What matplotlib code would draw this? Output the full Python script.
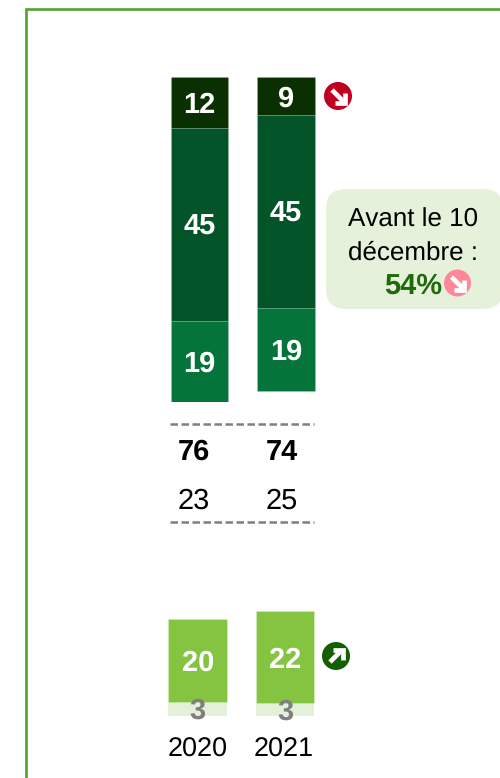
import matplotlib.pyplot as plt
from matplotlib.lines import Line2D
from matplotlib.patches import Circle, FancyBboxPatch

# =========================
# Data
# =========================
YEARS = ["2020", "2021"]

TOP_SEGMENTS = [
    [11.9, 8.9],
    [45.2, 45.2],
    [19.0, 19.4],
]
TOP_COLORS = ["#0a2f00", "#04542a", "#04743a"]

SUBTOTAL_BOLD = [76, 74]
SUBTOTAL_PLAIN = [23, 25]

BOTTOM_PALE = [3.3, 3.0]
BOTTOM_GREEN = [19.8, 22.0]

CALLOUT_LINES = ["Avant le 10", "décembre :"]
CALLOUT_VALUE = "54%"

# =========================
# Setup
# =========================
W, H = 500, 778
plt.rcParams["font.family"] = ["Liberation Sans", "DejaVu Sans"]
plt.rcParams["text.hinting"] = "no_hinting"
plt.rcParams["text.hinting_factor"] = 1

fig = plt.figure(figsize=(W / 100, H / 100), dpi=100)


def px_axes(left, top, right, bottom, zorder=1):
    """Axes placed with pixel coordinates measured from the top left."""
    ax = fig.add_axes(
        [left / W, 1 - bottom / H, (right - left) / W, (bottom - top) / H],
        zorder=zorder,
    )
    ax.axis("off")
    return ax


def badge(ax, cx, cy, color, up=False, r=14):
    """Round badge with a white diagonal arrow."""
    s = -1 if up else 1
    ax.add_patch(Circle((cx, cy), r, color=color, lw=0))
    style = dict(color="white", lw=3.4, solid_capstyle="butt", solid_joinstyle="miter")
    ax.plot([cx - 6, cx + 6], [cy - 6 * s, cy + 6 * s], **style)
    ax.plot(
        [cx + 6.5, cx + 6.5, cx - 3.5],
        [cy - 3.5 * s, cy + 6.5 * s, cy + 6.5 * s],
        **style,
    )


def center_labels(labels):
    """Centre bar labels on the digits rather than on the text box."""
    for label in labels:
        label.set_verticalalignment("center_baseline")


# frame: only the left and top edges show inside the picture
frame = px_axes(0, 0, W, H, zorder=0)
frame.set_xlim(0, W)
frame.set_ylim(H, 0)
frame.add_line(Line2D([26, 26, W], [H, 9, 9], color="#4fa32a", lw=1.9, solid_joinstyle="miter"))

# =========================
# Upper stacked bars
# =========================
ax_top = px_axes(156.25, 77, 329.25, 402)
ax_top.set_xlim(-0.5, 1.5)
ax_top.set_ylim(76.1, 0)

offsets = [0.0, 0.0]
for values, color in zip(TOP_SEGMENTS, TOP_COLORS):
    bars = ax_top.bar(
        range(len(YEARS)), values, width=0.665, bottom=offsets,
        color=color, edgecolor="#ffffff20", linewidth=0.6,
    )
    center_labels(ax_top.bar_label(
        bars, labels=[str(round(v)) for v in values], label_type="center",
        color="white", fontsize=21, fontweight="bold",
    ))
    offsets = [o + v for o, v in zip(offsets, values)]

# =========================
# Lower stacked bars
# =========================
ax_bottom = px_axes(154.1, 610, 328.6, 716)
ax_bottom.set_xlim(-0.5, 1.5)
ax_bottom.set_ylim(0, 106 / 4.2)

ax_bottom.bar(range(len(YEARS)), BOTTOM_PALE, width=0.67, color="#e4f1d8")
green_bars = ax_bottom.bar(
    range(len(YEARS)), BOTTOM_GREEN, width=0.67, bottom=BOTTOM_PALE, color="#84c441",
    edgecolor="#ffffff40", linewidth=0.6,
)
center_labels(ax_bottom.bar_label(
    green_bars, labels=[str(round(v)) for v in BOTTOM_GREEN], label_type="center",
    color="white", fontsize=21, fontweight="bold",
))
for i, v in enumerate(BOTTOM_PALE):
    ax_bottom.text(
        i, v / 2 + 0.1, str(round(v)), ha="center", va="center_baseline",
        color="#7f7f7f", fontsize=21, fontweight="bold",
    )

# =========================
# Overlay: subtotals, years, badges, callout
# =========================
over = px_axes(0, 0, W, H, zorder=3)
over.set_xlim(0, W)
over.set_ylim(H, 0)

for y in (424, 522):
    over.plot([170, 314], [y, y], color="#7f7f7f", lw=1.8, linestyle=(0, (3.0, 1.4)))

for x, bold, plain in zip((193.5, 282), SUBTOTAL_BOLD, SUBTOTAL_PLAIN):
    over.text(x, 449.5, str(bold), ha="center", va="center_baseline", fontsize=21, fontweight="bold", color="black")
    over.text(x, 498.5, str(plain), ha="center", va="center_baseline", fontsize=21, color="black")

for x, year in zip((197.5, 284), YEARS):
    over.text(x, 747, year, ha="center", va="center_baseline", fontsize=19.5, color="black")

badge(over, 338, 96, "#c00020")
badge(over, 336, 656, "#145f00", up=True)

over.add_patch(
    FancyBboxPatch(
        (346, 209), 137, 80, boxstyle="round,pad=20,rounding_size=20",
        facecolor="#e6f1dc", edgecolor="none", clip_on=True,
    )
)
over.text(413, 217, CALLOUT_LINES[0], ha="center", va="center_baseline", fontsize=19, color="black")
over.text(413, 250, CALLOUT_LINES[1], ha="center", va="center_baseline", fontsize=19, color="black")
over.text(413, 283, CALLOUT_VALUE, ha="center", va="center_baseline", fontsize=21, fontweight="bold", color="#1f6b0a")
badge(over, 457.5, 283, "#ff8797", r=13.5)

fig.savefig("out.png", dpi=100)
